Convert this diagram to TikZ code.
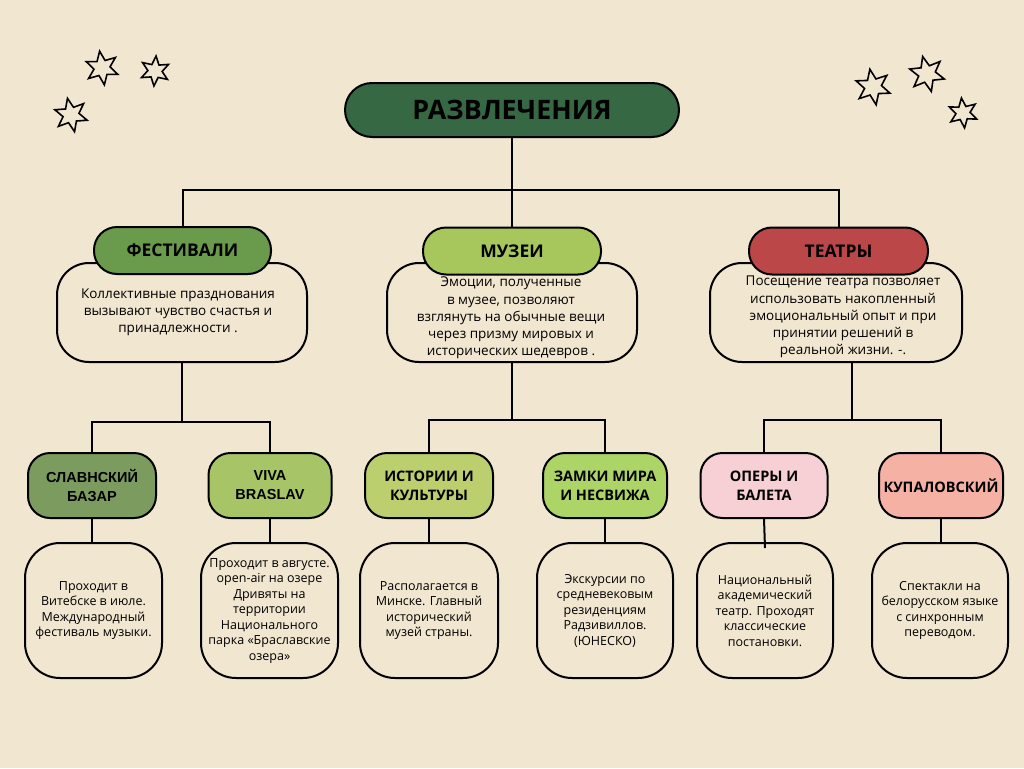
\documentclass[tikz,border=0pt]{standalone}
\usepackage{fontspec}
\setmainfont{Open Sans}
\newfontfamily\arialf{Liberation Sans}
\usetikzlibrary{shapes.geometric}
\definecolor{bg}{HTML}{F1E6D0}
\definecolor{ctitle}{HTML}{366843}
\definecolor{cfest}{HTML}{6A9A4B}
\definecolor{cmuz}{HTML}{A7C75C}
\definecolor{cteat}{HTML}{BC4749}
\definecolor{cslav}{HTML}{7B9C5E}
\definecolor{cviva}{HTML}{A7C566}
\definecolor{cist}{HTML}{BBCF6F}
\definecolor{czam}{HTML}{ADD466}
\definecolor{coper}{HTML}{F7D0D5}
\definecolor{ckup}{HTML}{F6B1A5}
\begin{document}
\begin{tikzpicture}[x=1pt,y=-1pt,line width=2pt,
  titlebox/.style={draw,rounded corners=27pt,minimum width=334pt,minimum height=54pt,fill=ctitle,font=\bfseries\fontsize{26.8}{30}\selectfont},
  catbox/.style={draw,rounded corners=23pt,minimum height=47pt,font=\bfseries\fontsize{17.5}{20}\selectfont},
  descbox/.style={draw,fill=bg,rounded corners=32pt,minimum height=99pt,inner sep=0pt},
  desctext/.style={align=center,inner sep=0pt,font=\fontsize{13.5}{17.2}\selectfont},
  subbox/.style={draw,rounded corners=22pt,minimum height=65pt,align=center,inner sep=0pt,font=\bfseries\fontsize{14.5}{19}\selectfont},
  sdescbox/.style={draw,fill=bg,rounded corners=35pt,minimum height=135pt,align=center,inner sep=0pt,font=\fontsize{12.5}{15.5}\selectfont},
  deco/.style={draw,star,star points=6,star point ratio=2.1,line width=1.6pt,inner sep=0pt}]
\useasboundingbox[fill=bg] (0,0) rectangle (1024,768);

% stars
\node[deco,minimum size=34pt,rotate=8] (s1) at (102,68) {};
\node[deco,minimum size=30pt,rotate=-4] (s2) at (155,71) {};
\node[deco,minimum size=34pt,rotate=12] (s3) at (71,115) {};
\node[deco,minimum size=36pt,rotate=10] (s4) at (873,87) {};
\node[deco,minimum size=36pt,rotate=14] (s5) at (927,74) {};
\node[deco,minimum size=30pt,rotate=6] (s6) at (963,113) {};

% coordinates for connector junctions
\coordinate (j0) at (512,190);
\coordinate (jf) at (182,422);
\coordinate (jm) at (512,420);
\coordinate (jt) at (852,420);
\coordinate (topt) at (852,362);
\coordinate (operend) at (765,548);

% title, descriptions, categories
\node[titlebox] (title) at (512,110) {РАЗВЛЕЧЕНИЯ};
\node[descbox,minimum width=250pt] (fdesc) at (182,312.5) {};
\node[desctext] (fdesct) at (178,312) {Коллективные празднования\\вызывают чувство счастья и\\принадлежности .};
\node[descbox,minimum width=250pt] (mdesc) at (512,312.5) {};
\node[desctext] (mdesct) at (511,318) {Эмоции, полученные\\в музее,  позволяют\\взглянуть на обычные вещи\\через призму мировых и\\исторических шедевров .};
\node[descbox,minimum width=252pt] (tdesc) at (836,312.5) {};
\node[desctext] (tdesct) at (843,317) {Посещение театра позволяет\\использовать накопленный\\эмоциональный опыт и при\\принятии решений в\\реальной жизни. -.};

\node[catbox,fill=cfest,minimum width=177pt] (fest) at (182.5,250.5) {ФЕСТИВАЛИ};
\node[catbox,fill=cmuz,minimum width=178pt] (muz) at (512,251) {МУЗЕИ};
\node[catbox,fill=cteat,minimum width=179pt] (teat) at (838.5,251) {ТЕАТРЫ};

% upper connectors
\draw (title.south) -- (j0);
\draw (j0) -| (fest.north);
\draw (j0) -- (muz.north);
\draw (j0) -| (teat.north);

% sub boxes
\node[subbox,fill=cslav,minimum width=128pt] (slav) at (92,485.5) {{\arialf\bfseries СЛАВНСКИЙ}\\{\arialf\bfseries БАЗАР}};
\node[subbox,fill=cviva,minimum width=123pt] (viva) at (270,485.5) {{\arialf\bfseries\fontsize{14.5}{20}\selectfont VIVA}\\{\arialf\bfseries\fontsize{14.5}{20}\selectfont BRASLAV}};
\node[subbox,fill=cist,minimum width=128pt] (ist) at (429,485.5) {ИСТОРИИ И\\КУЛЬТУРЫ};
\node[subbox,fill=czam,minimum width=124pt] (zam) at (605,485.5) {ЗАМКИ МИРА\\И НЕСВИЖА};
\node[subbox,fill=coper,minimum width=127pt] (oper) at (764,485.5) {ОПЕРЫ И\\БАЛЕТА};
\node[subbox,fill=ckup,minimum width=124pt] (kup) at (941,485.5) {КУПАЛОВСКИЙ};

% lower connectors
\draw (fdesc.south) -- (jf);
\draw (slav.north) |- (jf) -| (viva.north);
\draw (mdesc.south) -- (jm);
\draw (ist.north) |- (jm) -| (zam.north);
\draw (topt) -- (jt);
\draw (oper.north) |- (jt) -| (kup.north);

% bottom descriptions
\node[sdescbox,minimum width=137pt] (slavd) at (93.5,610.5) {Проходит в\\Витебске в июле.\\Международный\\фестиваль музыки.};
\node[sdescbox,minimum width=137pt] (vivad) at (269.5,610.5) {\\[-6pt]Проходит в августе.\\open-air на озере\\Дривяты на\\территории\\Национального\\парка «Браславские\\озера»};
\node[sdescbox,minimum width=138pt] (istd) at (429,610.5) {Располагается в\\Минске. Главный\\исторический\\музей страны.};
\node[sdescbox,minimum width=136pt] (zamd) at (605,610.5) {Экскурсии по\\средневековым\\резиденциям\\Радзивиллов.\\(ЮНЕСКО)};
\node[sdescbox,minimum width=136pt] (operd) at (765,610.5) {Национальный\\академический\\театр.  Проходят\\классические\\постановки.};
\node[sdescbox,minimum width=136pt] (kupd) at (940,610.5) {Спектакли на\\белорусском языке\\с синхронным\\переводом.};

\draw (slav.south) -- (slav.south |- slavd.north);
\draw (viva.south) -- (viva.south |- vivad.north);
\draw (ist.south) -- (ist.south |- istd.north);
\draw (zam.south) -- (zam.south |- zamd.north);
\draw (oper.south) -- (operend);
\draw (kup.south) -- (kup.south |- kupd.north);
\end{tikzpicture}
\end{document}
